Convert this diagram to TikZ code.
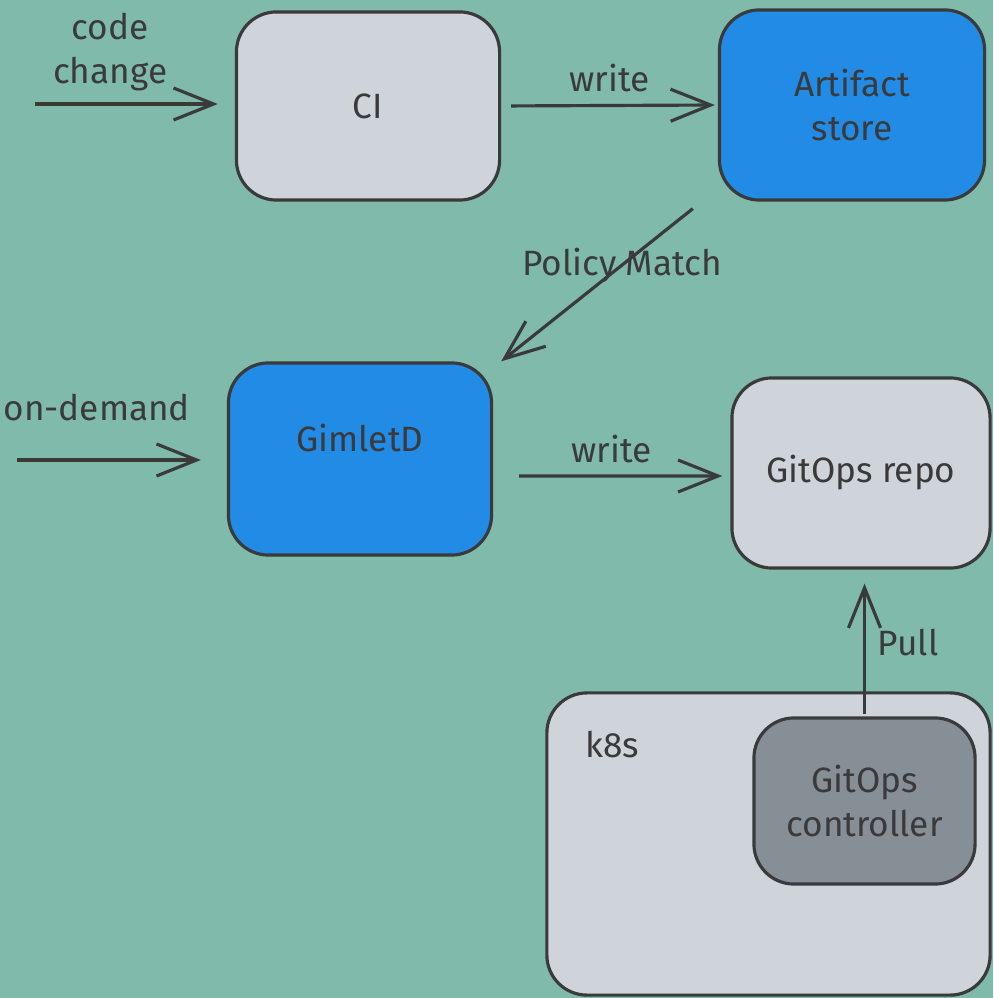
\documentclass[tikz,border=0pt]{standalone}
\usepackage{fontspec}
\setmainfont{Fira Sans}
\usetikzlibrary{arrows.meta,positioning}
\definecolor{bgsage}{HTML}{7FBAAB}
\definecolor{boxgray}{HTML}{CED4DA}
\definecolor{boxblue}{HTML}{228BE6}
\definecolor{ctrlgray}{HTML}{868E96}
\definecolor{ink}{HTML}{3A3A3A}
\tikzset{
 >={Straight Barb[length=4mm,width=3.2mm]},
 flow/.style={draw=ink,line width=0.9pt},
 box/.style={shape=rectangle,draw=ink,line width=0.9pt,rounded corners=4mm,
   text=ink,align=center,font=\fontsize{10}{12.5}\selectfont},
 lbl/.style={text=ink,align=center,font=\fontsize{10}{12.5}\selectfont}
}

\begin{document}
\begin{tikzpicture}[x=0.01cm,y=-0.01cm]
\fill[bgsage] (0,0) rectangle (993,998);
\useasboundingbox (0,0) rectangle (993,998);

% boxes
\path (368,106) node[name=ci,box,fill=boxgray,minimum width=2.63cm,minimum height=1.88cm] {CI};
\path (852,105) node[name=art,box,fill=boxblue,minimum width=2.65cm,minimum height=1.9cm] {Artifact\\store};
\path (360,459) node[name=gim,box,fill=boxblue,minimum width=2.63cm,minimum height=1.92cm,
   label={[lbl,yshift=0.21cm]center:GimletD}] {};
\path (861,473) node[name=repo,box,fill=boxgray,minimum width=2.58cm,minimum height=1.9cm] {GitOps repo};
\path (768.5,844) node[name=k8s,box,fill=boxgray,minimum width=4.43cm,minimum height=3.02cm] {};
\path (612,745) node[name=k8slbl,lbl] {k8s};
\path (864.5,801) node[name=ctrl,box,fill=ctrlgray,minimum width=2.21cm,minimum height=1.66cm] {GitOps\\controller};

% free ends
\coordinate (cc) at (35,104);
\coordinate (od) at (17,460);

% arrows
\path[->] (cc) edge[flow,shorten >=0.17cm] node[lbl,above,pos=0.376]{code\\change} (cc -| ci.west);
\path[->] (ci.east) edge[flow,shorten <=0.1cm,shorten >=0.03cm] node[lbl,above]{write} (art.west);
\path[->] ([xshift=-0.25cm,yshift=-0.07cm]art.south west) edge[flow] node[lbl,pos=0.37]{Policy Match} ([xshift=0.08cm]gim.north east);
\path[->] (od) edge[flow,shorten >=0.26cm] node[lbl,above=2.6mm,pos=0.38]{on-demand} (od -| gim.west);
\path[->] ([yshift=-0.17cm]gim.east) edge[flow,shorten <=0.26cm,shorten >=0.08cm] node[lbl,above]{write} ([yshift=-0.03cm]repo.west);
\path[->] (ctrl.north) edge[flow,shorten <=0.02cm,shorten >=0.14cm] node[lbl,right,pos=0.5]{Pull} (ctrl.north |- repo.south);
\end{tikzpicture}
\end{document}
